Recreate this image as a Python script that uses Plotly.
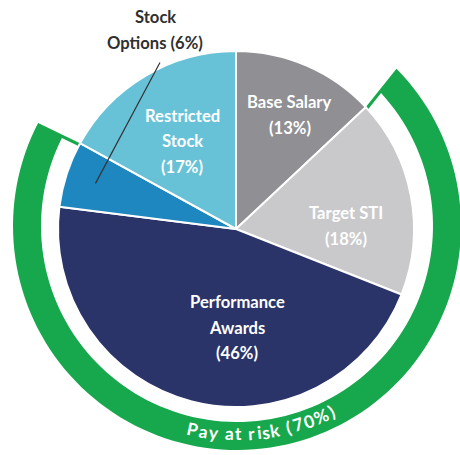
import math
import plotly.graph_objects as go

# ---------------- data ----------------
categories = ["Base Salary", "Target STI", "Performance Awards", "Stock Options", "Restricted Stock"]
values = [13, 18, 46, 6, 17]
label_lines = [["Base Salary"], ["Target STI"], ["Performance", "Awards"], ["Stock", "Options"], ["Restricted", "Stock"]]
at_risk = ["Target STI", "Performance Awards", "Stock Options"]
ring_title = "Pay at risk"

# ---------------- styles / layout ----------------
colors = ["#8F8F94", "#C9C9CB", "#2B3469", "#1F87C0", "#67C2D8"]
GREEN = "#17A74C"
W, H = 460, 455
CX, CY, R = 236, 229, 178          # pie centre / radius (px)
RCX, RCY = 237, 226                 # ring centre (px)
R_IN, R_OUT = 196, 224
FONT = "Lato"
FS = 16.6
LINE_GAP = 25.5
# label placement: (angle shift from slice mid-angle, radius px) ; None -> outside label
label_place = [(1.9, 126), (9.2, 110), (-15.0, 99), None, (-0.9, 103)]
outside_label_pos = (155, 17)


def px(x, y):
    return x / W, 1 - y / H


def pol(cx, cy, r, deg):
    a = math.radians(deg)
    return cx + r * math.sin(a), cy - r * math.cos(a)


total = sum(values)
starts, mids = [], []
acc = 0
for v in values:
    starts.append(acc / total * 360)
    mids.append((acc + v / 2) / total * 360)
    acc += v

fig = go.Figure()
fig.add_trace(go.Pie(
    labels=categories, values=values, sort=False, direction="clockwise", rotation=0,
    marker=dict(colors=colors, line=dict(color="white", width=2)),
    textinfo="none", hoverinfo="label+percent", showlegend=False,
    domain=dict(x=[(CX - R) / W, (CX + R) / W], y=[(H - CY - R) / H, (H - CY + R) / H]),
))

annotations = []
shapes = []

# ---- slice labels ----
for i, cat in enumerate(categories):
    pct = f"({round(values[i] / total * 100)}%)"
    if label_place[i] is None:
        lines = label_lines[i][:-1] + [label_lines[i][-1] + " " + pct]
        lx, ly = outside_label_pos
        for k, t in enumerate(lines):
            x, y = px(lx, ly + k * LINE_GAP)
            annotations.append(dict(x=x, y=y, xref="paper", yref="paper", text=t, showarrow=False,
                                    xanchor="center", yanchor="middle",
                                    font=dict(family=FONT, size=FS, color="#2F2F2F", weight=700)))
        # leader line
        ex, ey = pol(CX, CY, R * 0.83, mids[i])
        sx, sy = lx + 5, ly + (len(lines) - 1) * LINE_GAP + 20
        x0, y0 = px(sx, sy)
        x1, y1 = px(ex, ey)
        shapes.append(dict(type="line", xref="paper", yref="paper", x0=x0, y0=y0, x1=x1, y1=y1,
                           line=dict(color="#333333", width=1.2), layer="above"))
    else:
        lines = label_lines[i] + [pct]
        dang, rr = label_place[i]
        bx, by = pol(CX, CY, rr, mids[i] + dang)
        n = len(lines)
        for k, t in enumerate(lines):
            x, y = px(bx, by + (k - (n - 1) / 2) * LINE_GAP)
            annotations.append(dict(x=x, y=y, xref="paper", yref="paper", text=t, showarrow=False,
                                    xanchor="center", yanchor="middle",
                                    font=dict(family=FONT, size=FS, color="white", weight=700)))

# ---- pay at risk ring ----
idx = [categories.index(c) for c in at_risk]
a0 = starts[idx[0]]
a1 = starts[idx[-1]] + values[idx[-1]] / total * 360
risk_pct = round(sum(values[j] for j in idx) / total * 100)
TILT = 1.4

P0 = pol(CX, CY, R, a0)
P1 = pol(CX, CY, R, a1)
A0 = pol(RCX, RCY, R_OUT, a0 - TILT)
A1 = pol(RCX, RCY, R_OUT, a1 - TILT)


def unit(v):
    l = math.hypot(v[0], v[1])
    return v[0] / l, v[1] / l


def path_from(points):
    s = ""
    for j, (x, y) in enumerate(points):
        xp, yp = px(x, y)
        s += ("M" if j == 0 else "L") + f"{xp:.5f},{yp:.5f} "
    return s + "Z"


def arc(cx, cy, r, d0, d1, n=120):
    return [pol(cx, cy, r, d0 + (d1 - d0) * t / n) for t in range(n + 1)]


d0 = unit((A0[0] - P0[0], A0[1] - P0[1]))
d1 = unit((A1[0] - P1[0], A1[1] - P1[1]))
P0in = (P0[0] - d0[0] * 12, P0[1] - d0[1] * 12)
P1in = (P1[0] - d1[0] * 12, P1[1] - d1[1] * 12)
green_pts = [P0in, A0] + arc(RCX, RCY, R_OUT, a0 - TILT, a1 - TILT) + [A1, P1in] + arc(CX, CY, R - 12, a1, a0)
shapes.append(dict(type="path", xref="paper", yref="paper", path=path_from(green_pts),
                   fillcolor=GREEN, line=dict(width=0), layer="below"))


def offset_line(P, d, toward, w):
    n = (-d[1], d[0])
    if n[0] * toward[0] + n[1] * toward[1] < 0:
        n = (-n[0], -n[1])
    return (P[0] + n[0] * w, P[1] + n[1] * w)


def hit_circle(P, d, cx, cy, r):
    fx, fy = P[0] - cx, P[1] - cy
    b = fx * d[0] + fy * d[1]
    c = fx * fx + fy * fy - r * r
    s = -b + math.sqrt(b * b - c)
    return (P[0] + d[0] * s, P[1] + d[1] * s)


def ang(cx, cy, p):
    return math.degrees(math.atan2(p[0] - cx, -(p[1] - cy))) % 360


TH = 3.2
t0 = (math.cos(math.radians(a0)), math.sin(math.radians(a0)))
t1 = (-math.cos(math.radians(a1)), -math.sin(math.radians(a1)))
Q0 = offset_line(P0, d0, t0, TH)
Q1 = offset_line(P1, d1, t1, TH)
Q0o = hit_circle(Q0, d0, RCX, RCY, R_IN)
Q1o = hit_circle(Q1, d1, RCX, RCY, R_IN)
Q0i = (Q0[0] - d0[0] * 14, Q0[1] - d0[1] * 14)
Q1i = (Q1[0] - d1[0] * 14, Q1[1] - d1[1] * 14)
g0 = ang(RCX, RCY, Q0o)
g1 = ang(RCX, RCY, Q1o)
if g1 < g0:
    g1 += 360
white_pts = [Q0i, Q0o] + arc(RCX, RCY, R_IN, g0, g1) + [Q1o, Q1i] + arc(CX, CY, R - 14, a1, a0)
shapes.append(dict(type="path", xref="paper", yref="paper", path=path_from(white_pts),
                   fillcolor="white", line=dict(width=0), layer="below"))

# ---- curved ring label ----
ring_text = f"{ring_title} ({risk_pct}%)"
CW = {'P': 0.60, 'a': 0.50, 'y': 0.50, ' ': 0.21, 't': 0.35, 'r': 0.36, 'i': 0.25, 's': 0.40,
      'k': 0.50, '(': 0.31, '7': 0.58, '0': 0.58, '%': 0.78, ')': 0.31}
RFS = 17.5
R_TXT = 208
CENTER_ANG = 173.0
ARC_LEN = 150.0
widths = [CW.get(ch, 0.5) * RFS for ch in ring_text]
extra = (ARC_LEN - sum(widths)) / (len(ring_text) - 1)
pos = 0.0
for k, ch in enumerate(ring_text):
    cpos = pos + widths[k] / 2
    pos += widths[k] + extra
    off = cpos - ARC_LEN / 2
    phi = CENTER_ANG - math.degrees(off / R_TXT)
    if ch == " ":
        continue
    x, y = px(*pol(RCX, RCY, R_TXT, phi))
    annotations.append(dict(x=x, y=y, xref="paper", yref="paper", text=ch, showarrow=False,
                            xanchor="center", yanchor="middle", textangle=phi - 180,
                            font=dict(family=FONT, size=RFS, color="white", weight=700)))

fig.update_layout(
    width=W, height=H, margin=dict(l=0, r=0, t=0, b=0),
    paper_bgcolor="white", plot_bgcolor="white",
    shapes=shapes, annotations=annotations,
)

fig.write_html("out.html", config={"displayModeBar": False},
               post_script="document.body.style.margin='0px';document.body.style.overflow='hidden';")
